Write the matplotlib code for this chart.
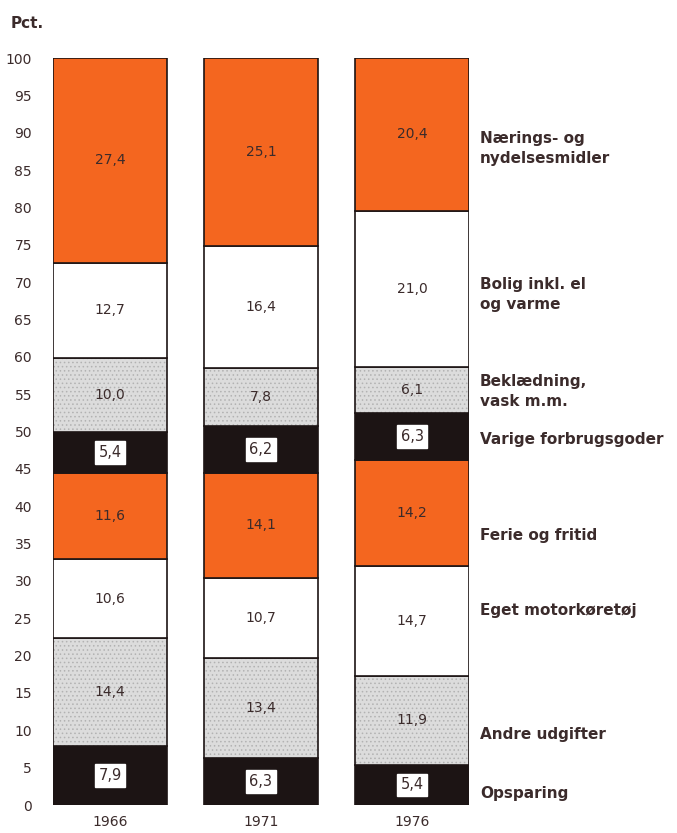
import matplotlib.pyplot as plt
import numpy as np

years = ["1966", "1971", "1976"]
categories = ["Opsparing", "Andre udgifter", "Eget motorkøretøj", "Ferie og fritid",
              "Varige forbrugsgoder", "Beklædning,\nvask m.m.", "Bolig inkl. el\nog varme",
              "Nærings- og\nnydelsesmidler"]
values = {
    "1966": [7.9, 14.4, 10.6, 11.6, 5.4, 10.0, 12.7, 27.4],
    "1971": [6.3, 13.4, 10.7, 14.1, 6.2, 7.8, 16.4, 25.1],
    "1976": [5.4, 11.9, 14.7, 14.2, 6.3, 6.1, 21.0, 20.4],
}
label_y = [1.6, 9.4, 26.1, 36.1, 48.9, 55.4, 68.4, 87.9]

orange = "#f4661f"
black = "#1c1414"
gray = "#dcdcdc"
ink = "#3b2b2b"
seg_colors = [black, gray, "white", orange, black, gray, "white", orange]

plt.rcParams["hatch.linewidth"] = 0.6

fig = plt.figure(figsize=(6.77, 8.33), dpi=100)
ax = fig.add_axes([0.078, 0.0336, 0.615, 0.8966])

x = np.arange(len(years))
w = 0.757
for i, yr in enumerate(years):
    bottom = 0
    for j, v in enumerate(values[yr]):
        if seg_colors[j] == gray:
            # stipple fill first, then the dark outline on top
            ax.bar(x[i], v, w, bottom=bottom, color=gray, edgecolor="#b2b2b2",
                   linewidth=0, hatch="....")
            ax.bar(x[i], v, w, bottom=bottom, fill=False, edgecolor=black,
                   linewidth=1.2)
        else:
            ax.bar(x[i], v, w, bottom=bottom, color=seg_colors[j], edgecolor=black,
                   linewidth=1.2)
        mid = bottom + v / 2
        txt = f"{v:.1f}".replace(".", ",")
        if seg_colors[j] == black:
            ax.text(x[i], mid, txt, ha="center", va="center", fontsize=10.5,
                    color=ink, zorder=5,
                    bbox=dict(boxstyle="square,pad=0.25", fc="white", ec="white"))
        else:
            ax.text(x[i], mid, txt, ha="center", va="center", fontsize=10,
                    color=ink, zorder=5)
        bottom += v

for lab, ly in zip(categories, label_y):
    ax.text(2.45, ly, lab, ha="left", va="center", fontsize=11, fontweight="bold",
            color=ink, clip_on=False, linespacing=1.4)

ax.set_xlim(-w / 2, 2 + w / 2)
ax.set_ylim(0, 100)
ax.set_yticks(range(0, 101, 5))
ax.set_yticklabels([str(t) for t in range(0, 101, 5)], fontsize=10, color=ink)
ax.set_xticks(x)
ax.set_xticklabels(years, fontsize=10, color=ink)
ax.tick_params(length=0, axis="y", pad=15)
ax.tick_params(length=0, axis="x", pad=7)
for s in ax.spines.values():
    s.set_visible(False)

fig.text(0.015, 0.972, "Pct.", fontsize=11, fontweight="bold", color=ink, va="center")

fig.savefig("out.png", dpi=100)
